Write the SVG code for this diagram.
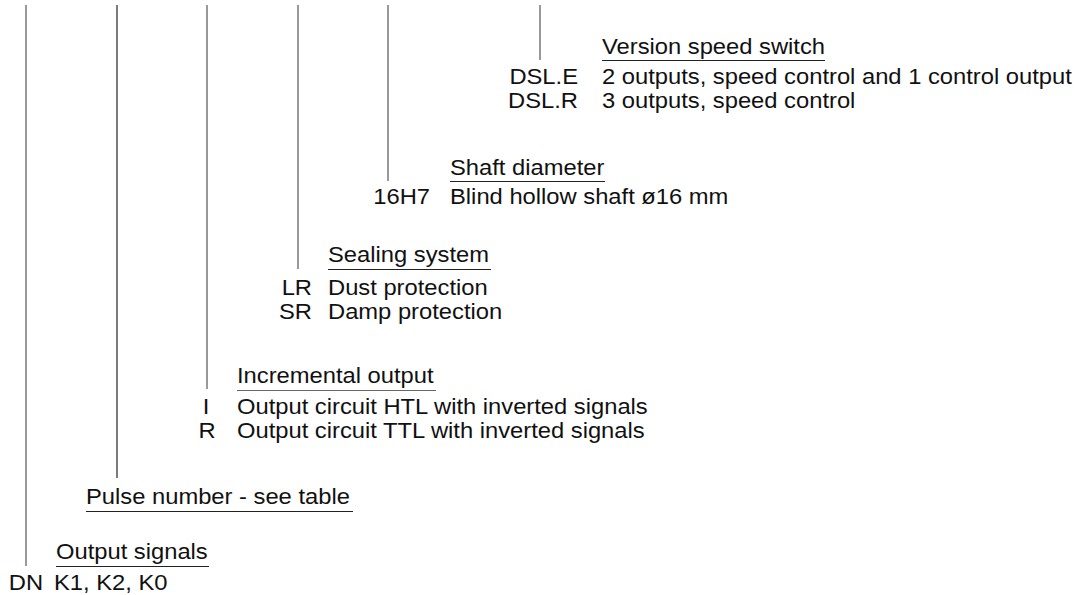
<svg xmlns="http://www.w3.org/2000/svg" width="1080" height="595" viewBox="0 0 1080 595">
<style>
text{font-family:"Liberation Sans",Arial,sans-serif;font-size:22px;fill:#111}
.v{stroke:#555;stroke-width:1.2;fill:none}
.u{stroke:#222;stroke-width:1.2;fill:none}
.e{text-anchor:end}
.m{text-anchor:middle}
</style>
<rect width="1080" height="595" fill="#fff"/>
<g id="connectors">
<line class="v" x1="26" y1="5" x2="26" y2="566"/>
<line class="v" x1="117" y1="5" x2="117" y2="478" style="stroke:#222"/>
<line class="v" x1="207" y1="5" x2="207" y2="389"/>
<line class="v" x1="298" y1="5" x2="298" y2="269"/>
<line class="v" x1="388" y1="5" x2="388" y2="181"/>
<line class="v" x1="540" y1="5" x2="540" y2="60"/>
</g>
<g id="speed-switch">
<text transform="translate(602,54) scale(1.08,1)">Version speed switch</text>
<line class="u" x1="602" y1="60.5" x2="825" y2="60.5"/>
<text class="e" transform="translate(578,84) scale(1.08,1)">DSL.E</text>
<text transform="translate(602,84) scale(1.08,1)">2 outputs, speed control and 1 control output</text>
<text class="e" transform="translate(578,108) scale(1.08,1)">DSL.R</text>
<text transform="translate(602,108) scale(1.08,1)">3 outputs, speed control</text>
</g>
<g id="shaft">
<text transform="translate(450,175) scale(1.08,1)">Shaft diameter</text>
<line class="u" x1="450" y1="181.5" x2="605" y2="181.5"/>
<text class="e" transform="translate(430,204) scale(1.08,1)">16H7</text>
<text transform="translate(450,204) scale(1.08,1)">Blind hollow shaft ø16 mm</text>
</g>
<g id="sealing">
<text transform="translate(328,262) scale(1.08,1)">Sealing system</text>
<line class="u" x1="328" y1="269.5" x2="491" y2="269.5"/>
<text class="e" transform="translate(312,295) scale(1.08,1)">LR</text>
<text transform="translate(328,295) scale(1.08,1)">Dust protection</text>
<text class="e" transform="translate(312,319) scale(1.08,1)">SR</text>
<text transform="translate(328,319) scale(1.08,1)">Damp protection</text>
</g>
<g id="incremental">
<text transform="translate(237,383) scale(1.08,1)">Incremental output</text>
<line class="u" x1="237" y1="390.5" x2="436" y2="390.5" style="stroke:#666"/>
<text class="m" transform="translate(206,414) scale(1.08,1)">I</text>
<text transform="translate(237,414) scale(1.08,1)">Output circuit HTL with inverted signals</text>
<text class="m" transform="translate(207,438) scale(1.08,1)">R</text>
<text transform="translate(237,438) scale(1.08,1)">Output circuit TTL with inverted signals</text>
</g>
<g id="pulse">
<text transform="translate(86,504) scale(1.08,1)">Pulse number - see table</text>
<line class="u" x1="86" y1="511.5" x2="353" y2="511.5"/>
</g>
<g id="output-signals">
<text transform="translate(56,559) scale(1.08,1)">Output signals</text>
<line class="u" x1="56" y1="566.5" x2="209" y2="566.5"/>
<text class="m" transform="translate(26,590) scale(1.08,1)">DN</text>
<text transform="translate(54,590) scale(1.08,1)">K1, K2, K0</text>
</g>
</svg>
